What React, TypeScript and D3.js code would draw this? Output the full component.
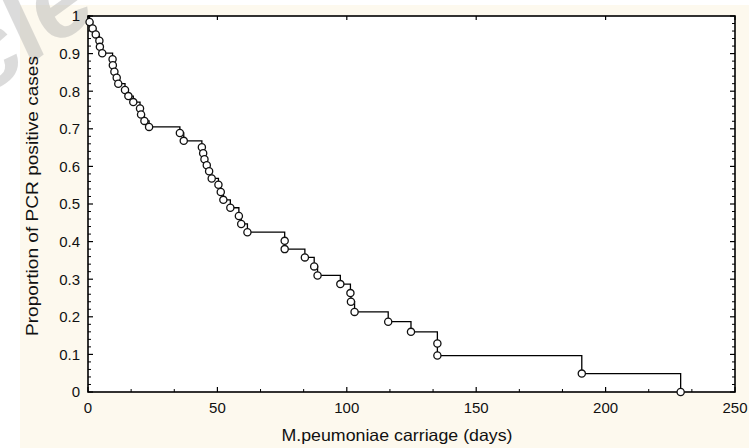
import React from "react";
import * as d3 from "d3";

const eventTimes = [
  0.6, 1.8, 3.0, 4.4, 4.6, 5.5,
  9.5, 9.6, 10.2, 11.1, 11.7, 14.3, 15.6, 17.5, 20.1, 20.5, 21.8, 23.6,
  35.5, 37.0,
  44.0, 44.5, 45.0, 45.9, 46.8, 47.8,
  50.4, 51.3, 52.3,
  55.0, 58.3, 59.2, 61.6,
  76.0, 76.0,
  83.8,
  87.4, 88.7,
  97.5,
  101.4, 101.6, 103.0,
  116.0,
  124.8,
  135.0, 135.0,
  190.8,
  229.0,
];
const survival = [
  0.984, 0.967, 0.951, 0.934, 0.918, 0.901,
  0.885, 0.869, 0.852, 0.836, 0.820, 0.803, 0.787, 0.771, 0.754, 0.738, 0.721, 0.705,
  0.689, 0.668,
  0.651, 0.635, 0.619, 0.603, 0.587, 0.568,
  0.551, 0.532, 0.511,
  0.490, 0.468, 0.447, 0.425,
  0.402, 0.380,
  0.358,
  0.334, 0.310,
  0.287,
  0.263, 0.240, 0.213,
  0.187,
  0.160,
  0.129, 0.097,
  0.049,
  0.0,
];

const xTicks = [0, 50, 100, 150, 200, 250];
const yTicks = [0, 0.1, 0.2, 0.3, 0.4, 0.5, 0.6, 0.7, 0.8, 0.9, 1];
const xTitle = "M.peumoniae carriage (days)";
const yTitle = "Proportion of PCR positive cases";
const watermark = "cle";

const W = 749;
const H = 448;
const left = 88;
const right = 735;
const top = 16;
const bottom = 392;
const font = "'Liberation Sans', Arial, Helvetica, sans-serif";

export default function App() {
  const x = d3.scaleLinear().domain([0, 250]).range([left, right]);
  const y = d3.scaleLinear().domain([0, 1]).range([bottom, top]);

  const pts: [number, number][] = [[0, 1], ...eventTimes.map((t, i) => [t, survival[i]] as [number, number])];
  const line = d3
    .line<[number, number]>()
    .x((d) => x(d[0]))
    .y((d) => y(d[1]))
    .curve(d3.curveStepAfter);

  const xMinor = d3.range(0, 250.01, 50 / 3).filter((v) => Math.abs(v / 50 - Math.round(v / 50)) > 1e-6);
  const yMinor = d3.range(0, 1.0001, 0.02).filter((v) => Math.abs(v * 10 - Math.round(v * 10)) > 1e-6);

  return (
    <svg width={W} height={H} style={{ position: "absolute", left: 0, top: 0, display: "block" }}>
      <rect x={0} y={0} width={W} height={H} fill="#ffffff" />
      <rect x={20} y={5} width={W - 20} height={H - 5} fill="#fdf9ee" />
      <text
        transform="translate(-16,98) rotate(-36)"
        fontFamily={font}
        fontStyle="italic"
        fontWeight="bold"
        fontSize={104}
        fill="#a8a8a8"
        opacity={0.4}
      >
        {watermark}
      </text>
      <rect x={left} y={top} width={right - left} height={bottom - top} fill="#ffffff" />

      {xTicks.map((t) => (
        <line key={"xb" + t} x1={x(t)} x2={x(t)} y1={bottom} y2={bottom - 5} stroke="#000" strokeWidth={1.2} />
      ))}
      {xMinor.map((t) => (
        <line key={"xbm" + t} x1={x(t)} x2={x(t)} y1={bottom} y2={bottom - 3} stroke="#000" strokeWidth={1} />
      ))}
      {xTicks.map((t) => (
        <line key={"xt" + t} x1={x(t)} x2={x(t)} y1={top} y2={top + 4} stroke="#000" strokeWidth={1.2} />
      ))}
      {yTicks.map((t) => (
        <line key={"yl" + t} x1={left} x2={left + 5} y1={y(t)} y2={y(t)} stroke="#000" strokeWidth={1.2} />
      ))}
      {yMinor.map((t) => (
        <line key={"ylm" + t} x1={left} x2={left + 3} y1={y(t)} y2={y(t)} stroke="#000" strokeWidth={1} />
      ))}
      {yTicks.map((t) => (
        <line key={"yr" + t} x1={right} x2={right - 5} y1={y(t)} y2={y(t)} stroke="#000" strokeWidth={1.2} />
      ))}
      {yMinor.map((t) => (
        <line key={"yrm" + t} x1={right} x2={right - 3} y1={y(t)} y2={y(t)} stroke="#000" strokeWidth={1} />
      ))}

      <rect x={left} y={top} width={right - left} height={bottom - top} fill="none" stroke="#000" strokeWidth={1.6} />

      <path d={line(pts) || ""} fill="none" stroke="#000" strokeWidth={1.3} />
      {eventTimes.map((t, i) => (
        <circle key={"c" + i} cx={x(t)} cy={y(survival[i])} r={3.6} fill="#fff" stroke="#111" strokeWidth={1.3} />
      ))}

      {xTicks.map((t) => (
        <text key={"xl" + t} x={x(t)} y={412.5} textAnchor="middle" fontFamily={font} fontSize={15} fill="#111">
          {t}
        </text>
      ))}
      {yTicks.map((t) => (
        <text
          key={"yl2" + t}
          x={80}
          y={y(t)}
          dy="0.36em"
          textAnchor="end"
          fontFamily={font}
          fontSize={15}
          fill="#111"
        >
          {t === 0 || t === 1 ? String(t) : t.toFixed(1)}
        </text>
      ))}
      <text x={397} y={441} textAnchor="middle" fontFamily={font} fontSize={16.5} fill="#111" textLength={231} lengthAdjust="spacingAndGlyphs">
        {xTitle}
      </text>
      <text
        transform="translate(38,196) rotate(-90)"
        textAnchor="middle"
        fontFamily={font}
        fontSize={16.5}
        fill="#111"
        textLength={280}
        lengthAdjust="spacingAndGlyphs"
      >
        {yTitle}
      </text>
    </svg>
  );
}
